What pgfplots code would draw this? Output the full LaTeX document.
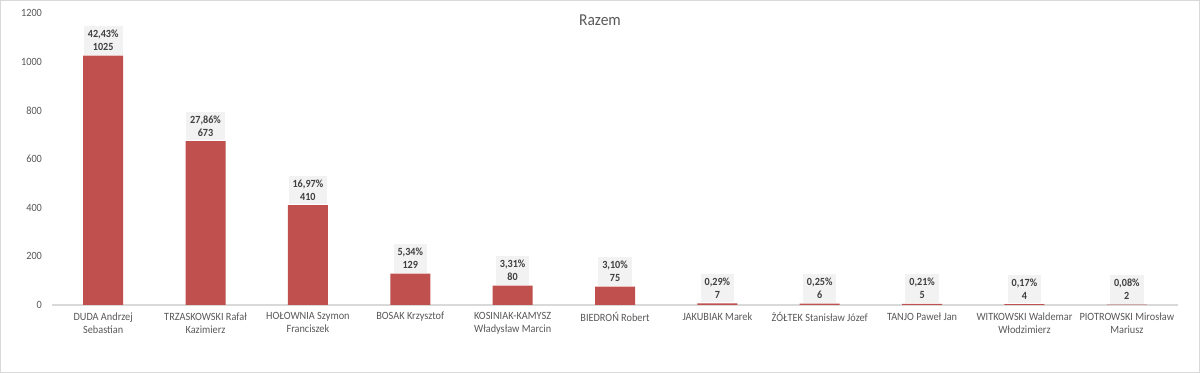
\documentclass[border=0pt]{standalone}
\usepackage{fontspec}
\setmainfont{Carlito}[FakeStretch=0.93]
\usepackage{pgfplots}
\pgfplotsset{compat=1.18}
\definecolor{barred}{HTML}{C0504D}
\definecolor{txtgray}{HTML}{595959}
\definecolor{lblgray}{HTML}{404040}
\definecolor{boxgray}{HTML}{F2F2F2}
\definecolor{linegray}{HTML}{D9D9D9}
\begin{document}
\begin{tikzpicture}
\useasboundingbox (0,0) rectangle (900pt,279.75pt);
\fill[white] (0,0) rectangle (900pt,279.75pt);
\draw[linegray, line width=1pt] (0.5pt,0.5pt) rectangle (899.5pt,279.25pt);
\node[font=\fontsize{12.5}{14}\selectfont, text=txtgray] at (450pt,264.5pt) {Razem};
\begin{axis}[
  at={(39pt,51pt)}, anchor=south west,
  scale only axis, width=844.5pt, height=219pt,
  xmin=-0.5, xmax=10.5, ymin=0, ymax=1200,
  ytick={0,200,...,1200},
  xtick={0,...,10},
  xticklabels={{DUDA Andrzej\\Sebastian},{TRZASKOWSKI Rafał\\Kazimierz},{HOŁOWNIA Szymon\\Franciszek},{BOSAK Krzysztof},{KOSINIAK-KAMYSZ\\Władysław Marcin},{BIEDROŃ Robert},{JAKUBIAK Marek},{ŻÓŁTEK Stanisław Józef},{TANJO Paweł Jan},{WITKOWSKI Waldemar\\Włodzimierz},{PIOTROWSKI Mirosław\\Mariusz}},
  xticklabel style={align=center, font=\fontsize{8.3}{9.8}\selectfont, text=txtgray, yshift=-2pt},
  yticklabel style={font=\fontsize{8.3}{10}\selectfont, text=txtgray, xshift=-4pt},
  /pgf/number format/assume math mode=true,
  /pgf/number format/1000 sep={},
  major tick length=0pt,
  axis lines*=left,
  x axis line style={draw=linegray, line width=0.8pt, -},
  y axis line style={draw=none},
  ybar, bar width=30pt,
  point meta=explicit symbolic,
  visualization depends on={rawy \as \rawy},
  nodes near coords={\pgfplotspointmeta\\\pgfmathprintnumber[fixed,precision=0]{\rawy}},
  nodes near coords style={align=center, font=\bfseries\fontsize{8.2}{9.6}\selectfont, text=lblgray, fill=boxgray, inner xsep=3pt, inner ysep=3pt, anchor=south, yshift=0.5pt},
  clip=false,
]
\addplot[fill=barred, draw=none] coordinates {
  (0,1025) [42,43\%]
  (1,673) [27,86\%]
  (2,410) [16,97\%]
  (3,129) [5,34\%]
  (4,80) [3,31\%]
  (5,75) [3,10\%]
  (6,7) [0,29\%]
  (7,6) [0,25\%]
  (8,5) [0,21\%]
  (9,4) [0,17\%]
  (10,2) [0,08\%]
};
\end{axis}
\end{tikzpicture}
\end{document}
